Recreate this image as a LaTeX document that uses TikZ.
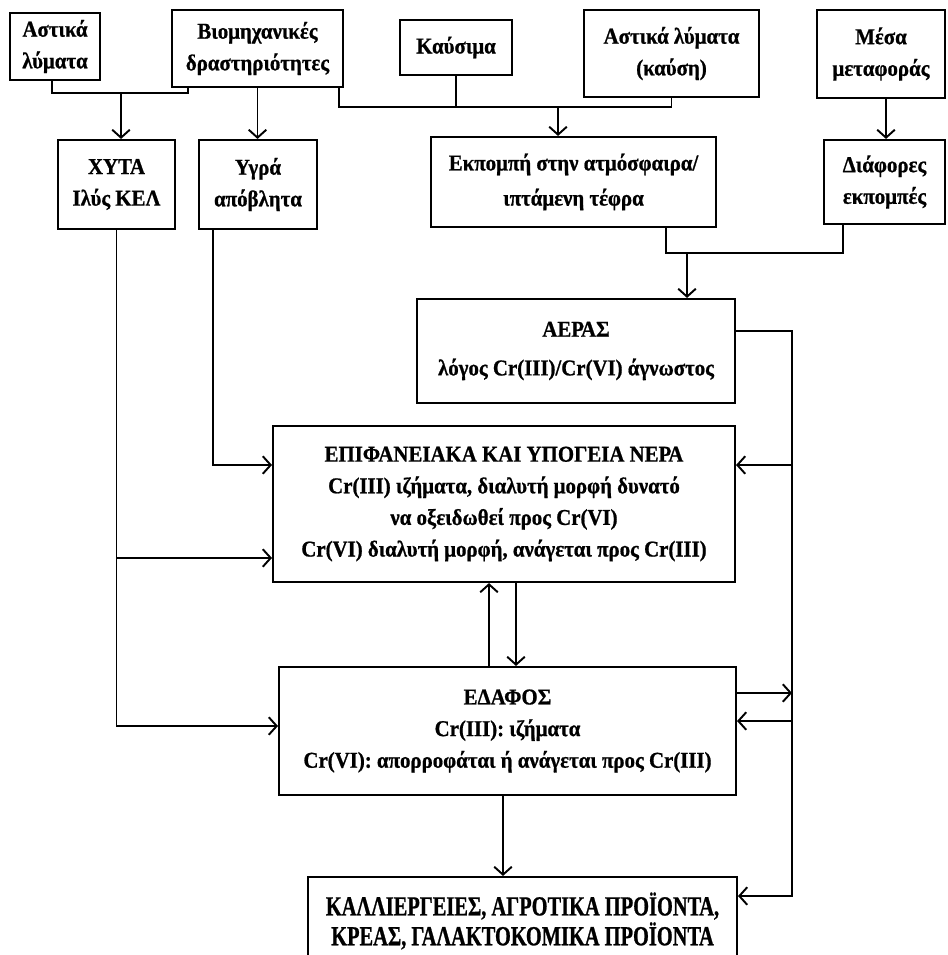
\documentclass[tikz,border=0pt]{standalone}
\usepackage{fontspec}
\setmainfont{Liberation Serif}[FakeStretch=0.92,BoldFeatures={FakeBold=0.8}]
\newfontfamily\cropfont{Liberation Serif}[FakeStretch=0.74,BoldFeatures={FakeBold=0.8}]
\usepackage{tikz}
\usetikzlibrary{arrows.meta,calc}

\begin{document}
\begin{tikzpicture}[
  >={Straight Barb[length=4.5pt,width=10pt]},
  x=0.02cm,
  y=-0.02cm,
  box/.style={draw=black,line width=1.2pt,align=center,inner sep=1pt,
    font=\fontsize{12.9}{18}\selectfont\bfseries},
  wire/.style={draw=black,line width=1.1pt},
  arr/.style={wire,->}
]
  \useasboundingbox (0,0) rectangle (947,955);
  \clip (0,0) rectangle (947,955);

  \node[box,minimum width=1.8cm,minimum height=1.34cm] (ural) at (55,46.5)
    {Αστικά\\λύματα};
  \node[box,minimum width=3.42cm,minimum height=1.54cm] (bio) at (257.5,48.5)
    {Βιομηχανικές\\δραστηριότητες};
  \node[box,minimum width=2.24cm,minimum height=1.1cm] (fuel) at (456,47.5)
    {Καύσιμα};
  \node[box,minimum width=3.5cm,minimum height=1.74cm] (burn) at (671.5,53.5)
    {Αστικά λύματα\\(καύση)};
  \node[box,minimum width=2.56cm,minimum height=1.76cm] (transp) at (881,54)
    {Μέσα\\μεταφοράς};

  \node[box,minimum width=2.34cm,minimum height=1.78cm] (xyta) at (116.5,184.5)
    {ΧΥΤΑ\\Ιλύς ΚΕΛ};
  \node[box,minimum width=2.36cm,minimum height=1.78cm] (liquid) at (258,184.5)
    {Υγρά\\απόβλητα};
  \node[box,minimum width=5.7cm,minimum height=1.8cm] (emis) at (573.5,182)
    {Εκπομπή στην ατμόσφαιρα/\\[2pt]ιπτάμενη τέφρα};
  \node[box,minimum width=2.42cm,minimum height=1.68cm] (various) at (884.5,182)
    {Διάφορες\\εκπομπές};

  \node[box,minimum width=6.36cm,minimum height=2.08cm] (air) at (576,351)
    {ΑΕΡΑΣ\\[4pt]λόγος Cr(III)/Cr(VI) άγνωστος};
  \node[box,minimum width=9.24cm,minimum height=3.12cm] (water) at (504,504)
    {ΕΠΙΦΑΝΕΙΑΚΑ ΚΑΙ ΥΠΟΓΕΙΑ ΝΕΡΑ\\Cr(III) ιζήματα, διαλυτή μορφή δυνατό\\
     να οξειδωθεί προς Cr(VI)\\Cr(VI) διαλυτή μορφή, ανάγεται προς Cr(III)};
  \node[box,minimum width=9.14cm,minimum height=2.56cm] (soil) at (507.5,731)
    {ΕΔΑΦΟΣ\\Cr(III): ιζήματα\\Cr(VI): απορροφάται ή ανάγεται προς Cr(III)};
  \node[box,font=\cropfont\fontsize{15.7}{17}\selectfont\bfseries,
    minimum width=8.58cm,minimum height=1.76cm] (crops) at (522.5,921)
    {ΚΑΛΛΙΕΡΓΕΙΕΣ, ΑΓΡΟΤΙΚΑ ΠΡΟΪΟΝΤΑ,\\ΚΡΕΑΣ, ΓΑΛΑΚΤΟΚΟΜΙΚΑ ΠΡΟΪΟΝΤΑ};

  \coordinate (j1) at (121,93);
  \coordinate (j2) at (558,107);
  \coordinate (j3) at (687,253);
  \coordinate (bus) at (792,332);
  \coordinate (upx) at (489,0);
  \coordinate (downx) at (516,0);
  \coordinate (cropx) at (503,0);
  \coordinate (wR) at ([yshift=0.78cm]water.east);
  \coordinate (wL) at ([yshift=0.78cm]water.west);
  \coordinate (wL2) at ([yshift=-1.08cm]water.west);
  \coordinate (sOut) at ([yshift=0.76cm]soil.east);
  \coordinate (sIn) at ([yshift=0.2cm]soil.east);
  \coordinate (sL) at ([yshift=0.1cm]soil.west);
  \coordinate (cR) at ([yshift=0.5cm]crops.east);

  \draw[wire] ([xshift=-0.06cm]ural.south) |- (j1) -| ([xshift=-1.39cm]bio.south);
  \draw[arr] (j1) -- (j1 |- xyta.north);
  \draw[arr] (bio.south) -- (bio.south |- liquid.north);
  \draw[wire] ([xshift=-0.1cm]bio.south east) |- (j2) -| (burn.south);
  \draw[wire] (fuel.south) -- (fuel.south |- j2);
  \draw[arr] (j2) -- (j2 |- emis.north);
  \draw[arr] ([xshift=0.1cm]transp.south) -- ([xshift=0.1cm]transp.south |- various.north);

  \draw[wire] ([xshift=1.85cm]emis.south) |- (j3) -| ([xshift=-0.83cm]various.south);
  \draw[arr] (j3) -- (j3 |- air.north);

  \draw[arr] ([yshift=0.4cm]air.east) -| (bus) |- (cR);
  \draw[arr] (bus |- wR) -- (wR);
  \draw[arr] (sOut) -- (bus |- sOut);
  \draw[arr] (bus |- sIn) -- (sIn);

  \draw[arr] ([xshift=-0.9cm]liquid.south) |- (wL);
  \draw[arr] (xyta.south) |- (sL);
  \draw[arr] (xyta.south |- wL2) -- (wL2);

  \draw[arr] (upx |- soil.north) -- (upx |- water.south);
  \draw[arr] (downx |- water.south) -- (downx |- soil.north);
  \draw[arr] (cropx |- soil.south) -- (cropx |- crops.north);
\end{tikzpicture}
\end{document}
